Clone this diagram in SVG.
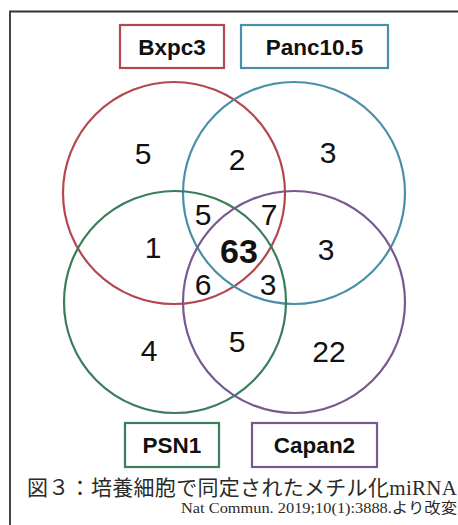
<svg xmlns="http://www.w3.org/2000/svg" width="458" height="525" viewBox="0 0 458 525">
  <style>
    .ring { fill: none; stroke-width: 2.2; }
    .box { fill: #fff; stroke-width: 2.2; }
    .red { stroke: #b4474e; }
    .blue { stroke: #4a8fa8; }
    .green { stroke: #3a7d5a; }
    .purple { stroke: #76598e; }
    .lbl { font-family: "Liberation Sans", Arial, sans-serif; font-weight: bold; font-size: 22.5px; fill: #111; text-anchor: middle; }
    .num { font-family: "Liberation Sans", Arial, sans-serif; font-size: 30px; fill: #111; text-anchor: middle; }
    .big { font-weight: bold; font-size: 34px; }
    .cap { font-family: "Liberation Serif", "Noto Sans CJK JP", serif; fill: #2a2a2a; }
  </style>
  <rect width="458" height="525" fill="#fff"/>
  <!-- frame -->
  <path d="M10,525 V11.5 H458" fill="none" stroke="#333" stroke-width="1.8"/>

  <!-- set circles -->
  <g id="sets">
    <circle class="ring red" cx="174" cy="193" r="111"/>
    <circle class="ring blue" cx="294" cy="193" r="111"/>
    <circle class="ring green" cx="175" cy="302" r="111"/>
    <circle class="ring purple" cx="294" cy="302" r="111"/>
  </g>

  <!-- set labels -->
  <g id="bxpc3">
    <rect class="box red" x="120" y="25" width="104" height="43"/>
    <text class="lbl" x="172" y="55">Bxpc3</text>
  </g>
  <g id="panc105">
    <rect class="box blue" x="241" y="25" width="147" height="43"/>
    <text class="lbl" x="314.5" y="55">Panc10.5</text>
  </g>
  <g id="psn1">
    <rect class="box green" x="125" y="423" width="94" height="44"/>
    <text class="lbl" x="172" y="453">PSN1</text>
  </g>
  <g id="capan2">
    <rect class="box purple" x="252" y="423" width="125" height="44"/>
    <text class="lbl" x="314.5" y="453">Capan2</text>
  </g>

  <!-- region counts -->
  <g id="counts">
    <text class="num" x="143" y="164">5</text>
    <text class="num" x="237" y="170">2</text>
    <text class="num" x="328" y="163">3</text>
    <text class="num" x="203" y="225">5</text>
    <text class="num" x="269" y="225">7</text>
    <text class="num" x="153" y="258">1</text>
    <text class="num big" x="239" y="263">63</text>
    <text class="num" x="326" y="260">3</text>
    <text class="num" x="203" y="295">6</text>
    <text class="num" x="268" y="295">3</text>
    <text class="num" x="149" y="361">4</text>
    <text class="num" x="237" y="352">5</text>
    <text class="num" x="329" y="362">22</text>
  </g>

  <!-- caption -->
  <text class="cap" x="27" y="495" font-size="21" textLength="430" lengthAdjust="spacing">図３：培養細胞で同定されたメチル化miRNA</text>
  <text class="cap" x="181" y="513" font-size="15" textLength="276" lengthAdjust="spacingAndGlyphs">Nat Commun. 2019;10(1):3888.より改変</text>
</svg>
